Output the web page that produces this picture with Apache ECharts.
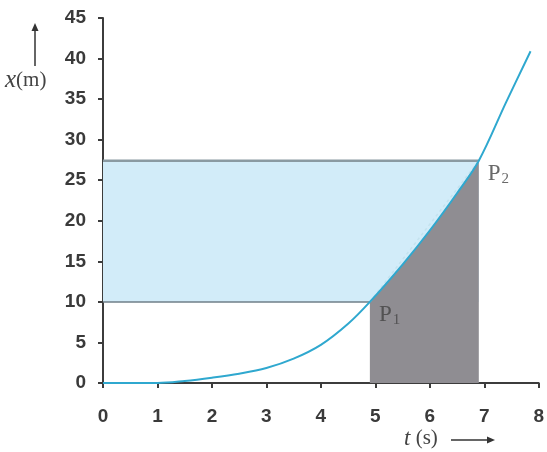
<!DOCTYPE html>
<html><head><meta charset="utf-8">
<script src="https://cdn.jsdelivr.net/npm/echarts@6/dist/echarts.min.js"></script>
<style>html,body{margin:0;padding:0;background:#fff}#c{width:547px;height:452px}</style>
</head><body><div id="c"></div>
<script>
// Curve x(t)
const tValues = [0, 1, 1.5, 2, 2.5, 3, 3.5, 4, 4.5, 4.9, 5.5, 6, 6.5, 6.9, 7.4, 7.85];
const xValues = [0, 0, 0.25, 0.65, 1.15, 1.85, 3.0, 4.7, 7.3, 10, 14.6, 18.8, 23.4, 27.4, 34.6, 40.9];
// Points P1, P2
const pointNames = ['1', '2'];
const pointT = [4.9, 6.9];
const pointX = [10, 27.4];
// Axis ticks
const tTicks = [0, 1, 2, 3, 4, 5, 6, 7, 8];
const xTicks = [0, 5, 10, 15, 20, 25, 30, 35, 40, 45];

const curve = tValues.map((t, i) => [t, xValues[i]]);
const i1 = tValues.indexOf(pointT[0]);
const i2 = tValues.indexOf(pointT[1]);
const grayArea = [[pointT[0], 0]].concat(curve.slice(i1, i2 + 1)).concat([[pointT[1], 0]]);

const chart = echarts.init(document.getElementById('c'));
const labelFont = { fontFamily: 'Liberation Sans, Arial, sans-serif', fontSize: 19, fontWeight: 'bold', color: '#3a3a3a' };
chart.setOption({
  animation: false,
  grid: { left: 103, right: 2, top: 18, bottom: 69, containLabel: false },
  xAxis: {
    type: 'value', min: tTicks[0], max: tTicks[tTicks.length - 1], interval: 1,
    axisLine: { onZero: false, lineStyle: { color: '#3c3c3c', width: 2 } },
    axisTick: { inside: false, length: 5, lineStyle: { color: '#3c3c3c', width: 2 } },
    axisLabel: Object.assign({ margin: 24 }, labelFont),
    splitLine: { show: false }
  },
  yAxis: {
    type: 'value', min: xTicks[0], max: xTicks[xTicks.length - 1], interval: 5,
    axisLine: { show: true, onZero: false, lineStyle: { color: '#3c3c3c', width: 2 } },
    axisTick: { show: true, inside: false, length: 5, lineStyle: { color: '#3c3c3c', width: 2 } },
    axisLabel: Object.assign({ margin: 17 }, labelFont),
    splitLine: { show: false }
  },
  series: [
    {
      type: 'line', data: [], silent: true, z: 1,
      markArea: {
        silent: true,
        itemStyle: { color: '#d2ecf9' },
        data: [[{ xAxis: 0, yAxis: pointX[0] }, { xAxis: pointT[1], yAxis: pointX[1] }]]
      }
    },
    {
      type: 'line', data: [[0, pointX[0]], [pointT[0], pointX[0]]], symbol: 'none', z: 2,
      lineStyle: { color: '#6f7f88', width: 1.5 }
    },
    {
      type: 'line', data: [[0, pointX[1]], [pointT[1], pointX[1]]], symbol: 'none', z: 2,
      lineStyle: { color: '#8a9aa2', width: 2.5 }
    },
    {
      type: 'line', data: grayArea, symbol: 'none', z: 3,
      lineStyle: { width: 0 },
      areaStyle: { color: '#8f8d92', opacity: 1, origin: 'start' }
    },
    {
      type: 'line', data: [[pointT[0], pointX[0]], [pointT[1], pointX[1]]], symbol: 'none', z: 4,
      lineStyle: { color: '#c4e2ee', width: 1.5, type: [3, 3] }
    },
    {
      type: 'line', data: curve, symbol: 'none', smooth: 0.35, z: 5,
      lineStyle: { color: '#2fa8cf', width: 2 }
    },
    {
      type: 'scatter', symbolSize: 0, z: 6,
      data: pointNames.map((n, i) => ({ value: [pointT[i], pointX[i]], name: n })),
      label: {
        show: true, position: 'insideLeft',
        formatter: p => '{p|P}{s|' + p.name + '}',
        offset: [4, 13],
        rich: {
          p: { fontFamily: 'Liberation Serif, DejaVu Serif, serif', fontSize: 23, color: '#444' },
          s: { fontFamily: 'Liberation Serif, DejaVu Serif, serif', fontSize: 15, color: '#444', padding: [11, 0, 0, 1] }
        }
      }
    }
  ],
  graphic: [
    { type: 'line', shape: { x1: 35, y1: 66, x2: 35, y2: 30 }, style: { stroke: '#333', lineWidth: 1.5 } },
    { type: 'polygon', shape: { points: [[35, 23], [31.5, 31], [38.5, 31]] }, style: { fill: '#333' } },
    { type: 'text', left: 5, top: 68, style: { text: '{i|x}{n|(m)}', rich: {
      i: { fontFamily: 'Liberation Serif, serif', fontStyle: 'italic', fontSize: 25, fill: '#444' },
      n: { fontFamily: 'Liberation Serif, serif', fontSize: 21, fill: '#444' } } } },
    { type: 'text', left: 404, top: 427, style: { text: '{i|t}{n| (s)}', rich: {
      i: { fontFamily: 'Liberation Serif, serif', fontStyle: 'italic', fontSize: 23, fill: '#444' },
      n: { fontFamily: 'Liberation Serif, serif', fontSize: 21, fill: '#444' } } } },
    { type: 'line', shape: { x1: 451, y1: 440, x2: 487, y2: 440 }, style: { stroke: '#333', lineWidth: 1.5 } },
    { type: 'polygon', shape: { points: [[495, 440], [487, 436.5], [487, 443.5]] }, style: { fill: '#333' } }
  ]
});
</script></body></html>
